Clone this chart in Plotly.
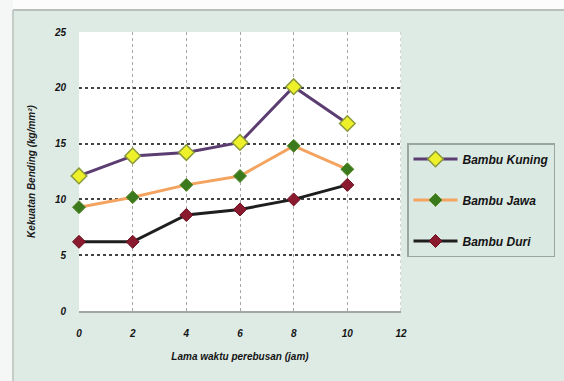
import plotly.graph_objects as go

x_jam = [0, 2, 4, 6, 8, 10]
bambu_kuning = [12.1, 13.9, 14.2, 15.1, 20.1, 16.8]
bambu_jawa = [9.3, 10.2, 11.3, 12.1, 14.8, 12.7]
bambu_duri = [6.2, 6.2, 8.6, 9.1, 10.0, 11.3]
series_names = ["Bambu Kuning", "Bambu Jawa", "Bambu Duri"]
x_ticks = [0, 2, 4, 6, 8, 10, 12]
y_ticks = [0, 5, 10, 15, 20, 25]

W, H = 564, 381
L, R, T, B = 79, 401, 32, 311

def px_x(p):
    return (p - L) / (R - L)

def px_y(p):
    return (B - p) / (B - T)

fnt = dict(family="Liberation Sans, Arial, sans-serif", size=10, color="#141414", weight="bold", style="italic")

fig = go.Figure()
styles = [
    dict(line=dict(color="#5b3d72", width=3),
         marker=dict(symbol="diamond", size=12, color="#eef02a", line=dict(color="#8a9a3a", width=1.5))),
    dict(line=dict(color="#f4a460", width=3),
         marker=dict(symbol="diamond", size=10, color="#3b7a1c", line=dict(color="#5a8a2a", width=1))),
    dict(line=dict(color="#1e1e1e", width=3),
         marker=dict(symbol="diamond", size=10, color="#8a1a2e", line=dict(color="#6a1020", width=1))),
]
for name, ys, st in zip(series_names, [bambu_kuning, bambu_jawa, bambu_duri], styles):
    fig.add_trace(go.Scatter(x=x_jam, y=ys, name=name, mode="lines+markers",
                             legendgroup=name, cliponaxis=False, **st))

shapes = [
    dict(type="rect", xref="paper", yref="paper", x0=px_x(-5), x1=px_x(W + 5), y0=px_y(10), y1=px_y(-5),
         fillcolor="#fbfcfb", line=dict(width=0), layer="below"),
    dict(type="rect", xref="paper", yref="paper", x0=px_x(-5), x1=px_x(13), y0=px_y(H + 5), y1=px_y(-5),
         fillcolor="#f4f7f5", line=dict(width=0), layer="below"),
    dict(type="line", xref="paper", yref="paper", x0=px_x(13), x1=px_x(W + 5), y0=px_y(10), y1=px_y(10),
         line=dict(color="#b8c0bc", width=2), layer="below"),
    dict(type="line", xref="paper", yref="paper", x0=px_x(13), x1=px_x(13), y0=px_y(10), y1=px_y(H + 5),
         line=dict(color="#c4ccc8", width=2), layer="below"),
]

fig.update_layout(
    width=W, height=H,
    margin=dict(l=L, r=W - R, t=T, b=H - B, autoexpand=False),
    paper_bgcolor="#deebe5",
    plot_bgcolor="#ffffff",
    font=fnt,
    shapes=shapes,
    showlegend=True,
    legend=dict(x=px_x(407), y=px_y(143), xanchor="left", yanchor="top",
                bgcolor="#dbe9e3", bordercolor="#9aa5a0", borderwidth=1.5,
                font=dict(family="Liberation Sans, Arial, sans-serif", size=12, color="#141414",
                          weight="bold", style="italic"),
                tracegroupgap=22, traceorder="grouped", itemwidth=44),
    xaxis=dict(range=[0, 12], tickvals=x_ticks, ticktext=[str(v) for v in x_ticks],
               showgrid=True, gridcolor="#a8a8a8", griddash="dot", gridwidth=1,
               showline=True, linecolor="#a0a6a3", linewidth=2, mirror=False,
               ticks="outside", ticklen=12, tickcolor="rgba(0,0,0,0)",
               zeroline=False, tickfont=fnt, automargin=False,
               title=dict(text="Lama waktu perebusan (jam)", font=fnt, standoff=15)),
    yaxis=dict(range=[0, 25], tickvals=y_ticks, ticktext=[str(v) for v in y_ticks],
               showgrid=True, gridcolor="#444444", griddash="dot", gridwidth=1.5,
               showline=False, zeroline=False, automargin=False,
               ticks="outside", ticklen=10, tickcolor="rgba(0,0,0,0)", tickfont=fnt,
               title=dict(text="Kekuatan Bending (kg/mm²)",
                          font=dict(family="Liberation Sans, Arial, sans-serif", size=10, color="#1a1a1a",
                                    weight="bold"), standoff=16)),
)
fig.add_shape(type="line", xref="x", yref="y", x0=12, x1=12, y0=0, y1=25,
              line=dict(color="#a8a8a8", width=1, dash="dot"))
fig.write_html("out.html", config={"displayModeBar": False},
               post_script="document.body.style.margin='0';document.body.style.overflow='hidden';")
